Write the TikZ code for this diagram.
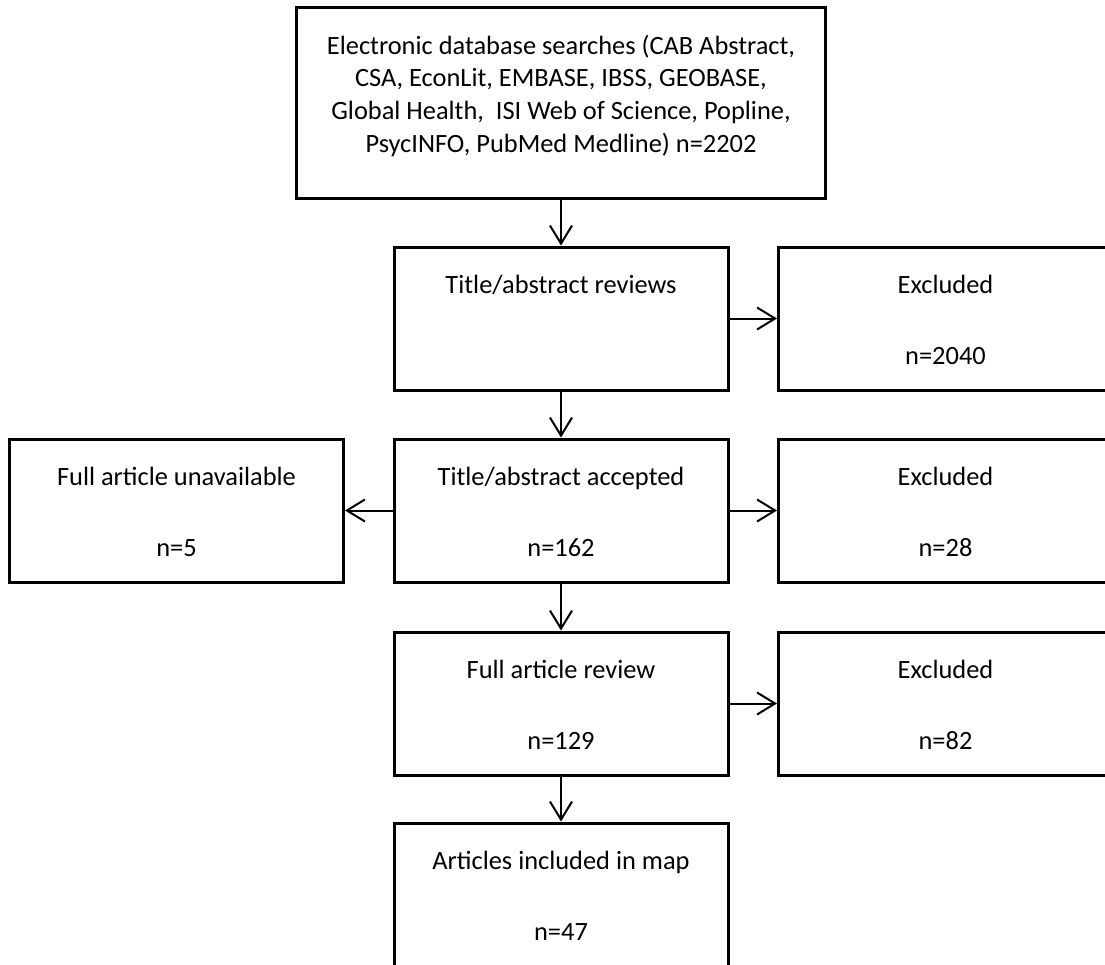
\documentclass[tikz,border=0pt]{standalone}
\usepackage{fontspec}
\setmainfont{Carlito}
\usetikzlibrary{arrows.meta}
\tikzset{
	box/.style={draw, line width=1.5pt, inner sep=0pt, font=\fontsize{13.2pt}{16.4pt}\selectfont},
	arr/.style={line width=1pt, -{Straight Barb[length=9pt,width=11pt,line width=1pt]}}
}
% two lines, first one near the top
\newcommand{\boxtext}[2]{\parbox[c][71.5pt][t]{167pt}{\centering\rule{0pt}{23pt}#1\\[19.1pt]#2}}
\begin{document}
\begin{tikzpicture}[x=.5pt,y=-.5pt]
	\useasboundingbox (0,0) rectangle (1105,965);
	\clip (0,0) rectangle (1105,965);
	\node[box] (search) at (561,102.5) {\parbox[c][95.5pt][t]{264.5pt}{\centering\rule{0pt}{23.5pt}Electronic database searches (CAB Abstract,\\
		CSA, EconLit, EMBASE, IBSS, GEOBASE,\\
		Global Health, \ ISI Web of Science, Popline,\\
		PsycINFO, PubMed Medline) n=2202}};
	\node[box] (review) at (561,318.5) {\boxtext{Title/abstract reviews}{}};
	\node[box] (accepted) at (561,510.5) {\boxtext{Title/abstract accepted}{n=162}};
	\node[box] (fullrev) at (561,703.5) {\boxtext{Full article review}{n=129}};
	\node[box] (included) at (561,894.5) {\boxtext{Articles included in map}{n=47}};
	\node[box] (unavail) at (176.5,510.5) {\boxtext{Full article unavailable}{n=5}};
	\node[box] (excl1) at (945.5,318.5) {\boxtext{Excluded}{n=2040}};
	\node[box] (excl2) at (945.5,510.5) {\boxtext{Excluded}{n=28}};
	\node[box] (excl3) at (945.5,703.5) {\boxtext{Excluded}{n=82}};
	\foreach \a/\b in {search/review, review/accepted, accepted/fullrev, fullrev/included,
		review/excl1, accepted/excl2, fullrev/excl3, accepted/unavail}
	\draw[arr] (\a) -- (\b);
\end{tikzpicture}
\end{document}
